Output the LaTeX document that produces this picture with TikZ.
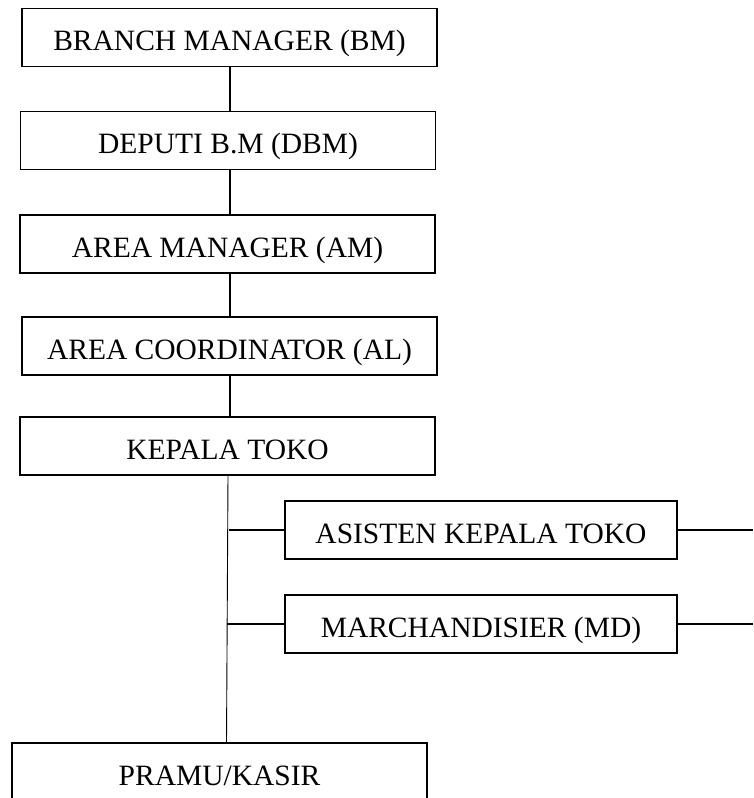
\documentclass[tikz,border=0pt]{standalone}
\usepackage{fontspec}
\setmainfont{Liberation Serif}
\begin{document}
\begin{tikzpicture}[x=1pt,y=-1pt,
  box/.style={draw,line width=1.1pt,rectangle,inner sep=0pt,font=\fontsize{29.5}{30}\selectfont,
    text height=26pt,text depth=0pt},
  wide/.style={box,minimum width=415pt,minimum height=58pt},
  side/.style={box,minimum width=392pt,minimum height=58pt},
  conn/.style={line width=1.1pt},
  thin/.style={line width=0.9pt}]
\useasboundingbox (0,0) rectangle (753,798);
\clip (0,0) rectangle (753,798);
\node[wide] (bm) at (229.5,37.5) {BRANCH MANAGER (BM)};
\node[wide] (dbm) at (228,140.5) {DEPUTI B.M (DBM)};
\node[wide] (am) at (227.5,244) {AREA MANAGER (AM)};
\node[wide] (al) at (229.5,346) {AREA COORDINATOR (AL)};
\node[wide] (kt) at (227.5,446) {KEPALA TOKO};
\node[side] (akt) at (481,530) {ASISTEN KEPALA TOKO};
\node[side] (md) at (481,624) {MARCHANDISIER (MD)};
\node[wide] (pk) at (219.5,772) {PRAMU/KASIR};
\coordinate (v1) at (230,0);
\draw[conn] (v1 |- bm.south) -- (v1 |- dbm.north);
\draw[conn] (v1 |- dbm.south) -- (v1 |- am.north);
\draw[conn] (v1 |- am.south) -- (v1 |- al.north);
\draw[conn] (v1 |- al.south) -- (v1 |- kt.north);
\coordinate (ktb) at (228,475);
\coordinate (pkt) at (226.5,743);
\draw[thin] (ktb) -- (pkt);
\coordinate (ba) at (228.5,530);
\coordinate (bb) at (227,624);
\draw[conn] (ba) -- (akt.west);
\draw[conn] (bb) -- (md.west);
\coordinate (ra) at (753,530);
\coordinate (rb) at (753,624);
\draw[conn] (akt.east) -- (ra);
\draw[conn] (md.east) -- (rb);
\end{tikzpicture}
\end{document}
